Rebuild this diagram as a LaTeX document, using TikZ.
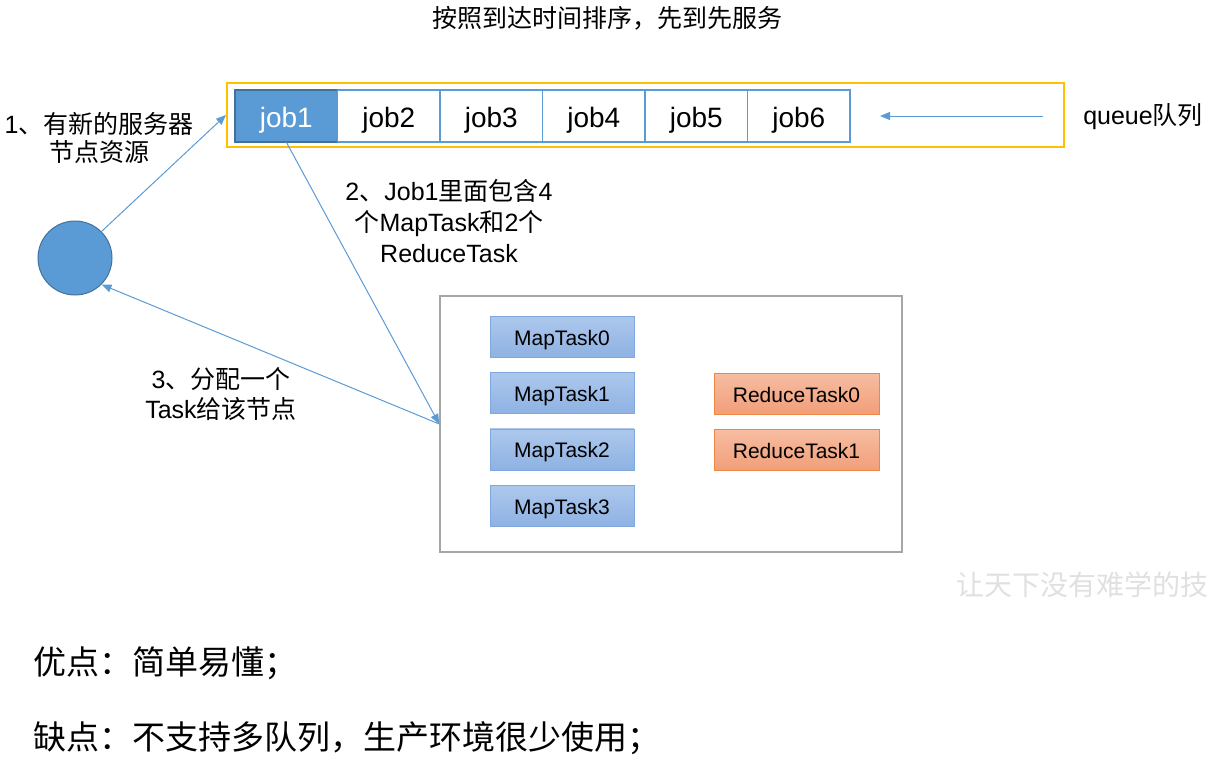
\documentclass[tikz,border=0pt]{standalone}
\usepackage{fontspec}
\setmainfont{Liberation Sans}
\newfontfamily\cjk{Noto Sans CJK SC}
\usetikzlibrary{arrows.meta,positioning}
\newcommand{\zh}[1]{{\cjk #1}}
\definecolor{jobblue}{HTML}{5B9BD5}
\definecolor{jobdark}{HTML}{41719C}
\definecolor{qyellow}{HTML}{FFC000}
\definecolor{boxgray}{HTML}{A6A6A6}
\definecolor{maptop}{HTML}{ADC8EC}
\definecolor{mapbot}{HTML}{8EB2E3}
\definecolor{mapline}{HTML}{7EA8DE}
\definecolor{redtop}{HTML}{F6BDA2}
\definecolor{redbot}{HTML}{F29E79}
\definecolor{redline}{HTML}{EE8644}

\begin{document}
\begin{tikzpicture}[x=1pt,y=-1pt,
    job/.style={draw=jobblue,line width=1.5pt,outer sep=0pt,inner sep=0pt,minimum width=102.5pt,minimum height=52pt,text height=28pt,text depth=6pt,font=\fontsize{28}{30}\selectfont},
    mt/.style={draw=mapline,top color=maptop,bottom color=mapbot,inner sep=0pt,minimum width=144pt,minimum height=41pt,text height=21pt,text depth=4pt,font=\fontsize{21}{24}\selectfont},
    rt/.style={mt,draw=redline,top color=redtop,bottom color=redbot,minimum width=165pt},
    lbl/.style={align=center,font=\fontsize{25}{30}\selectfont},
    ar/.style={-{Triangle[length=10pt,width=8pt]},draw=jobblue,line width=1pt}
]
\useasboundingbox (0,0) rectangle (1209,760);
\node[lbl] (title) at (607,18) {\zh{按照到达时间排序，先到先服务}};
% queue of jobs
\node[draw=qyellow,line width=2pt,minimum width=837pt,minimum height=64pt] (queue) at (645.5,115) {};
\node[job,fill=jobblue,draw=jobdark,text=white] (job1) at (286.25,116) {job1};
\node[job,right=0pt of job1] (job2) {job2};
\node[job,right=0pt of job2] (job3) {job3};
\node[job,right=0pt of job3] (job4) {job4};
\node[job,right=0pt of job4] (job5) {job5};
\node[job,right=0pt of job5] (job6) {job6};
\coordinate (qin) at (1043,116);
\node[lbl] (qlbl) at (1143,117) {queue\zh{队列}};
% server node
\node[circle,fill=jobblue,draw=jobdark,line width=1pt,minimum size=74pt,inner sep=0pt] (srv) at (75,258) {};
% tasks of job1
\node[draw=boxgray,line width=1.5pt,minimum width=462pt,minimum height=256pt] (tasks) at (671,424) {};
\node[mt] (map0) at (562,336.5) {MapTask0};
\node[mt,below=15pt of map0] (map1) {MapTask1};
\node[mt,below=15pt of map1] (map2) {MapTask2};
\node[mt,below=15pt of map2] (map3) {MapTask3};
\node[rt] (red0) at (796.5,393.5) {ReduceTask0};
\node[rt,below=15pt of red0] (red1) {ReduceTask1};
% labels
\node[lbl,font=\fontsize{25}{28}\selectfont] (t1) at (99,138) {1\zh{、有新的服务器}\\\zh{节点资源}};
\node[lbl,font=\fontsize{25}{31}\selectfont] (t2) at (449,221) {2\zh{、}Job1\zh{里面包含}4\\\zh{个}MapTask\zh{和}2\zh{个}\\ReduceTask};
\node[lbl] (t3) at (221,394) {3\zh{、分配一个}\\Task\zh{给该节点}};
\draw[ar] (srv.north east) -- (queue.west);
\draw[ar] (job1.south) -- (tasks.west);
\draw[ar] (tasks.west) -- (srv.south east);
\draw[ar,shorten >=30pt] (qin) -- (job6);
% notes
\node[anchor=west,text=black!12,font=\cjk\fontsize{28}{30}\selectfont] (wm) at (953,585) {让天下没有难学的技};
\node[anchor=west,font=\cjk\fontsize{33}{38}\selectfont] (pro) at (30,663) {优点：简单易懂；};
\node[anchor=west,font=\cjk\fontsize{33}{38}\selectfont] (con) at (30,738) {缺点：不支持多队列，生产环境很少使用；};
\end{tikzpicture}
\end{document}
